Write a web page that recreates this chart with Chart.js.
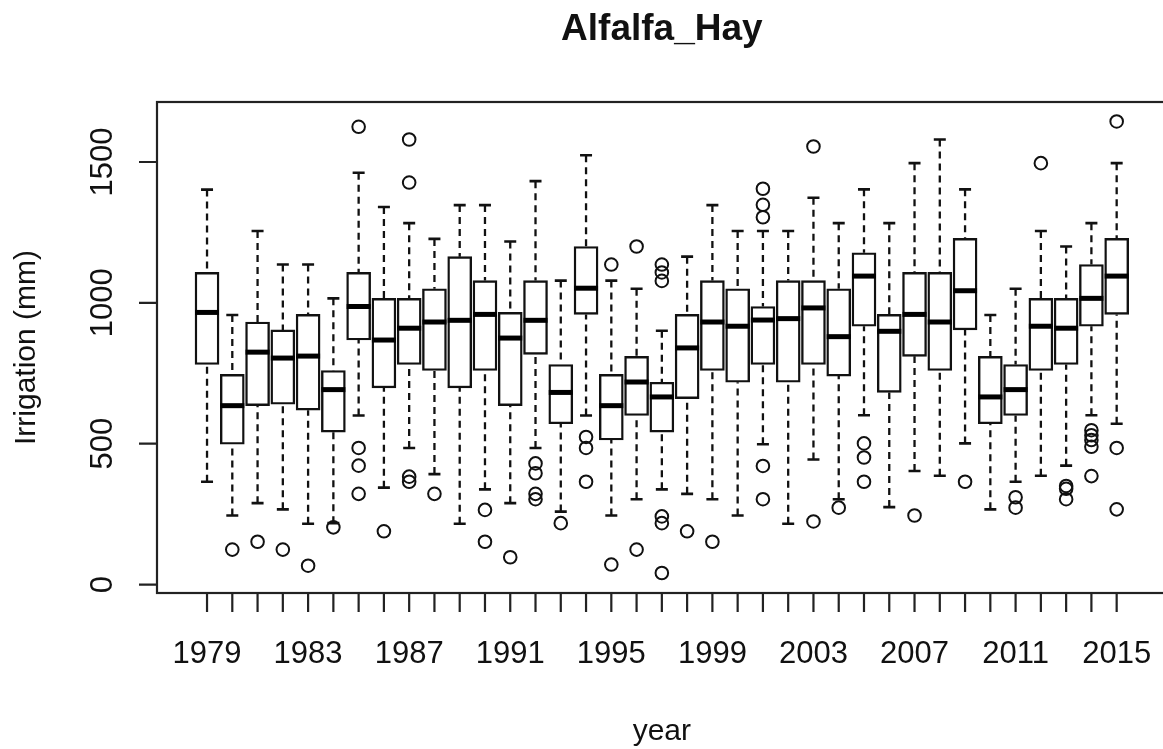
<!DOCTYPE html>
<html>
<head>
<meta charset="utf-8">
<script src="https://cdn.jsdelivr.net/npm/chart.js@4/dist/chart.umd.min.js"></script>
<style>
  html, body { margin: 0; padding: 0; background: #fff; overflow: hidden; }
  #wrap { width: 1163px; height: 749px; overflow: hidden; position: relative; }
  canvas { display: block; }
</style>
</head>
<body>
<div id="wrap"><canvas id="c" width="1175" height="749"></canvas></div>
<script>
const years = [1979,1980,1981,1982,1983,1984,1985,1986,1987,1988,1989,1990,1991,1992,1993,1994,1995,1996,1997,1998,1999,2000,2001,2002,2003,2004,2005,2006,2007,2008,2009,2010,2011,2012,2013,2014,2015];
const whiskerLow  = [365,245,289,267,216,218,600,344,485,392,216,338,289,485,259,600,245,303,338,322,303,245,498,216,444,303,601,275,403,386,501,267,365,386,422,601,571];
const q1          = [781,498,635,640,619,541,868,698,781,760,698,760,635,817,571,959,513,600,541,660,760,718,781,718,781,740,917,682,810,760,904,571,600,760,781,917,959];
const median      = [966,635,825,804,811,692,987,868,910,932,938,959,875,938,682,1052,635,719,666,840,932,917,939,944,982,880,1095,899,959,932,1043,666,692,917,910,1016,1095];
const q3          = [1108,746,932,904,959,760,1108,1016,1016,1050,1164,1079,966,1079,781,1200,746,810,718,959,1079,1050,987,1079,1079,1050,1178,959,1108,1108,1229,810,781,1016,1016,1136,1229];
const whiskerHigh = [1402,957,1255,1136,1136,1016,1462,1340,1283,1227,1347,1347,1218,1432,1079,1524,1079,1050,901,1164,1347,1255,1255,1255,1373,1283,1403,1283,1496,1580,1403,957,1050,1255,1200,1283,1496];
const outliers = [
  [], [124], [152], [124], [67], [203], [1625,485,422,322], [189], [1580,1427,383,365], [322],
  [], [265,152], [97], [430,395,322,303], [218], [524,485,365], [1136,71], [1200,124],
  [1136,1108,1078,242,218,41], [189], [152], [], [1405,1348,1304,421,303], [], [1555,224],
  [273], [501,451,365], [], [245], [], [365], [], [310,273], [1496], [350,340,303],
  [548,530,513,489,385], [1644,485,267]
];
const yTicks = [0, 500, 1000, 1500];
const xLabelYears = [1979,1983,1987,1991,1995,1999,2003,2007,2011,2015];
const chartTitle = 'Alfalfa_Hay';
const xTitle = 'year';
const yTitle = 'Irrigation (mm)';

const boxData = years.map((y, i) => ({ x: i + 1, y: [q1[i], q3[i]] }));
const outlierData = [];
outliers.forEach((arr, i) => arr.forEach(v => outlierData.push({ x: i + 1, y: v })));

const FONT = '"Liberation Sans", Arial, Helvetica, sans-serif';
const INK = '#111';

const boxplotPlugin = {
  id: 'boxplotPlugin',
  beforeDatasetsDraw(chart) {
    const ctx = chart.ctx, xs = chart.scales.x, ys = chart.scales.y;
    ctx.save();
    ctx.strokeStyle = INK;
    years.forEach((yr, i) => {
      const px = xs.getPixelForValue(i + 1);
      const pLo = ys.getPixelForValue(whiskerLow[i]);
      const pHi = ys.getPixelForValue(whiskerHigh[i]);
      const pQ1 = ys.getPixelForValue(q1[i]);
      const pQ3 = ys.getPixelForValue(q3[i]);
      ctx.lineWidth = 2.3;
      ctx.setLineDash([7, 5]);
      ctx.beginPath();
      ctx.moveTo(px, pHi); ctx.lineTo(px, pQ3);
      ctx.moveTo(px, pLo); ctx.lineTo(px, pQ1);
      ctx.stroke();
      ctx.setLineDash([]);
      ctx.lineWidth = 2.6;
      ctx.beginPath();
      ctx.moveTo(px - 6, pHi); ctx.lineTo(px + 6, pHi);
      ctx.moveTo(px - 6, pLo); ctx.lineTo(px + 6, pLo);
      ctx.stroke();
    });
    ctx.restore();
  },
  afterDatasetsDraw(chart) {
    const ctx = chart.ctx, xs = chart.scales.x, ys = chart.scales.y;
    const a = chart.chartArea;
    ctx.save();
    // medians
    ctx.strokeStyle = '#000';
    ctx.lineWidth = 5;
    years.forEach((yr, i) => {
      const px = xs.getPixelForValue(i + 1);
      const pm = ys.getPixelForValue(median[i]);
      ctx.beginPath();
      ctx.moveTo(px - 12, pm); ctx.lineTo(px + 12, pm);
      ctx.stroke();
    });
    // frame
    ctx.strokeStyle = '#222';
    ctx.lineWidth = 2.2;
    ctx.strokeRect(a.left, a.top, a.right - a.left, a.bottom - a.top);
    // y ticks
    ctx.beginPath();
    yTicks.forEach(v => {
      const py = ys.getPixelForValue(v);
      ctx.moveTo(a.left - 18, py); ctx.lineTo(a.left, py);
    });
    // x ticks
    years.forEach((yr, i) => {
      const px = xs.getPixelForValue(i + 1);
      ctx.moveTo(px, a.bottom); ctx.lineTo(px, a.bottom + 19);
    });
    ctx.stroke();
    // labels
    ctx.fillStyle = INK;
    ctx.font = '31px ' + FONT;
    ctx.textAlign = 'center';
    ctx.textBaseline = 'alphabetic';
    xLabelYears.forEach(yr => {
      const px = xs.getPixelForValue(years.indexOf(yr) + 1);
      ctx.fillText(String(yr), px, 663);
    });
    yTicks.forEach(v => {
      const py = ys.getPixelForValue(v);
      ctx.save();
      ctx.translate(112, py);
      ctx.rotate(-Math.PI / 2);
      ctx.fillText(String(v), 0, 0);
      ctx.restore();
    });
    // axis titles
    ctx.font = '30px ' + FONT;
    ctx.fillText(xTitle, (a.left + a.right) / 2, 740);
    ctx.save();
    ctx.translate(35, (a.top + a.bottom) / 2);
    ctx.rotate(-Math.PI / 2);
    ctx.fillText(yTitle, 0, 0);
    ctx.restore();
    // main title
    ctx.font = 'bold 37px ' + FONT;
    ctx.fillText(chartTitle, (a.left + a.right) / 2, 40);
    ctx.restore();
  }
};

new Chart(document.getElementById('c'), {
  type: 'bar',
  data: {
    datasets: [
      {
        type: 'scatter',
        data: outlierData,
        pointStyle: 'circle',
        pointRadius: 6.3,
        pointBorderWidth: 2,
        pointBackgroundColor: 'rgba(0,0,0,0)',
        pointBorderColor: INK,
        showLine: false
      },
      {
        type: 'bar',
        data: boxData,
        backgroundColor: '#fff',
        borderColor: INK,
        borderWidth: 2.4,
        borderSkipped: false,
        barThickness: 24
      }
    ]
  },
  options: {
    responsive: false,
    animation: false,
    layout: { padding: { left: 157, top: 102, right: 8, bottom: 156 } },
    plugins: { legend: { display: false }, tooltip: { enabled: false }, title: { display: false } },
    scales: {
      x: { type: 'linear', min: -0.98, max: 38.98, offset: false, display: false },
      y: { type: 'linear', min: -30, max: 1713, display: false }
    }
  },
  plugins: [boxplotPlugin]
});
</script>
</body>
</html>
